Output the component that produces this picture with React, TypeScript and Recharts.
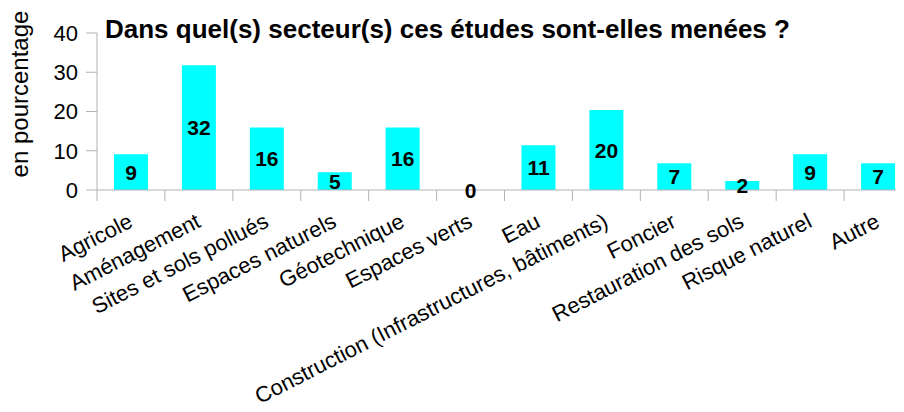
import { BarChart, Bar, XAxis, YAxis, LabelList } from "recharts";

const categories = [
  "Agricole",
  "Aménagement",
  "Sites et sols pollués",
  "Espaces naturels",
  "Géotechnique",
  "Espaces verts",
  "Eau",
  "Construction (Infrastructures, bâtiments)",
  "Foncier",
  "Restauration des sols",
  "Risque naturel",
  "Autre",
];
const percentages = [9.1, 31.8, 15.9, 4.5, 15.9, 0, 11.4, 20.4, 6.8, 2.3, 9.1, 6.8];
const yTicks = [0, 10, 20, 30, 40];

const FONT = "'Liberation Sans', Arial, sans-serif";
const AXIS = "#b3b3b3";

const data = categories.map((name, i) => ({ name, value: percentages[i] }));

function ValueText({ x, y, value }: { x: number; y: number; value: number }) {
  return (
    <text
      x={x}
      y={y}
      dy="0.36em"
      textAnchor="middle"
      fontSize={21}
      fontWeight="bold"
      fontFamily={FONT}
      fill="#000"
    >
      {String(Math.round(value))}
    </text>
  );
}

// category label rotated, plus the tick mark at the left edge of the band
// (tickSize/tickMargin are 0 so y is the axis line itself)
function CategoryTick(props: any) {
  const { x, y, payload, index } = props;
  const half = payload.offset ?? 34;
  const tx = x - 4;
  const ty = y + 22;
  const v = percentages[payload.index ?? index];
  return (
    <g>
      <line x1={x - half} y1={y} x2={x - half} y2={y + 11} stroke={AXIS} />
      <text
        x={tx}
        y={ty}
        dy="0.72em"
        textAnchor="end"
        fontSize={22}
        fontFamily={FONT}
        fill="#000"
        transform={`rotate(-27, ${tx}, ${ty})`}
      >
        {payload.value}
      </text>
      {/* zero-height bars get no label from the Bar, so draw it on the axis */}
      {v === 0 && <ValueText x={x} y={y} value={v} />}
    </g>
  );
}

function ValueLabel(props: any) {
  const { x, y, width, height, value } = props;
  return (
    <ValueText
      x={Number(x) + Number(width) / 2}
      y={Number(y) + Number(height) / 2}
      value={Number(value)}
    />
  );
}

function YTitle() {
  return (
    <text
      x={28}
      y={94}
      textAnchor="middle"
      fontSize={24}
      fontFamily={FONT}
      fill="#000"
      transform="rotate(-90, 28, 94)"
    >
      en pourcentage
    </text>
  );
}

export default function App() {
  return (
    <div style={{ position: "relative", margin: -8, width: 904, height: 412, overflow: "hidden" }}>
      <div
        style={{
          position: "absolute",
          left: 105,
          top: 16,
          fontFamily: FONT,
          fontWeight: "bold",
          fontSize: 26,
          lineHeight: 1,
          whiteSpace: "nowrap",
          zIndex: 1,
        }}
      >
        Dans quel(s) secteur(s) ces études sont-elles menées ?
      </div>
      <BarChart
        width={912}
        height={412}
        data={data}
        margin={{ top: 33, right: 0, bottom: 0, left: 0 }}
        barCategoryGap="25%"
      >
        <XAxis
          dataKey="name"
          interval={0}
          height={222}
          tickLine={false}
          tickSize={0}
          tickMargin={0}
          stroke={AXIS}
          tick={<CategoryTick />}
        />
        <YAxis
          width={97}
          domain={[0, 40]}
          ticks={yTicks}
          tickSize={11}
          tickMargin={8}
          stroke={AXIS}
          tick={{ fill: "#000", fontSize: 22, fontFamily: FONT }}
          label={<YTitle />}
        />
        <Bar dataKey="value" fill="#00ffff" isAnimationActive={false}>
          <LabelList dataKey="value" content={<ValueLabel />} />
        </Bar>
      </BarChart>
    </div>
  );
}
